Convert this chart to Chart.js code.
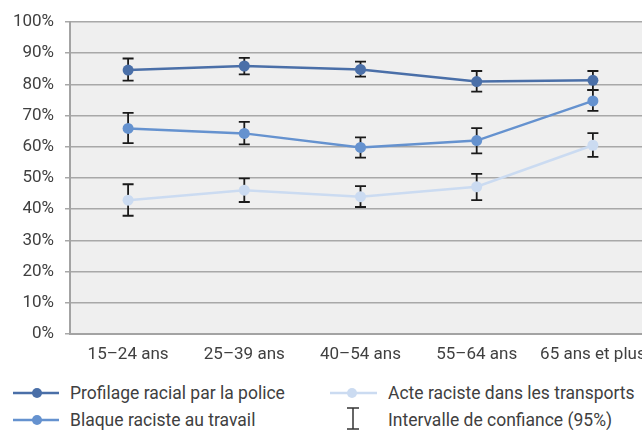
<!DOCTYPE html>
<html>
<head>
<meta charset="utf-8">
<script src="https://cdn.jsdelivr.net/npm/chart.js@4"></script>
<style>
  html, body { margin: 0; padding: 0; background: #fff; overflow: hidden; width: 642px; height: 430px; }
  #wrap { position: absolute; left: 0; top: 0; width: 662px; height: 372px; }
  .leg { position: absolute; font-family: Roboto, sans-serif; font-size: 17.5px; color: #404040; white-space: nowrap; line-height: 20px; }
  .ico { position: absolute; }
</style>
</head>
<body>
<div id="wrap"><canvas id="lineChart" width="662" height="372"></canvas></div>

<svg class="ico" style="left:12px;top:385px" width="50" height="16">
  <line x1="1" y1="8" x2="47" y2="8" stroke="#4a6fa8" stroke-width="2.5"/><circle cx="25" cy="8" r="5" fill="#4a6fa8"/>
</svg>
<div class="leg" style="left:70px;top:383px">Profilage racial par la police</div>

<svg class="ico" style="left:12px;top:412px" width="50" height="16">
  <line x1="1" y1="8" x2="47" y2="8" stroke="#6592cf" stroke-width="2.5"/><circle cx="25" cy="8" r="5" fill="#6592cf"/>
</svg>
<div class="leg" style="left:70px;top:410px">Blaque raciste au travail</div>

<svg class="ico" style="left:329px;top:385px" width="50" height="16">
  <line x1="1" y1="8" x2="48" y2="8" stroke="#cbdbf1" stroke-width="2.5"/><circle cx="23" cy="8" r="5" fill="#cbdbf1"/>
</svg>
<div class="leg" style="left:388px;top:383px">Acte raciste dans les transports</div>

<svg class="ico" style="left:345px;top:407px" width="16" height="23">
  <line x1="8" y1="1" x2="8" y2="22" stroke="#333" stroke-width="1.5"/>
  <line x1="2" y1="1" x2="14" y2="1" stroke="#333" stroke-width="1.5"/>
  <line x1="2" y1="22" x2="14" y2="22" stroke="#333" stroke-width="1.5"/>
</svg>
<div class="leg" style="left:388px;top:410px">Intervalle de confiance (95%)</div>

<script>
const categories = ['15\u201324 ans', '25\u201339 ans', '40\u201354 ans', '55\u201364 ans', '65 ans et plus'];

// valeurs en %
const policeValues = [84.6, 85.9, 84.8, 80.9, 81.3];
const policeLow = [81.2, 83.2, 82.5, 77.7, 78.2];
const policeHigh = [88.3, 88.5, 87.3, 84.3, 84.3];

const travailValues = [65.9, 64.3, 59.8, 62.0, 74.7];
const travailLow = [61.2, 60.8, 56.5, 57.9, 71.5];
const travailHigh = [70.9, 68.0, 63.0, 66.0, 78.2];

const transportsValues = [42.9, 46.1, 44.0, 47.2, 60.5];
const transportsLow = [37.9, 42.3, 40.7, 42.9, 56.8];
const transportsHigh = [48.0, 49.9, 47.4, 51.3, 64.4];

const yTicks = [0, 10, 20, 30, 40, 50, 60, 70, 80, 90, 100];

const plotBg = {
    id: 'plotBg',
    beforeDraw(chart) {
        const a = chart.chartArea;
        const c = chart.ctx;
        c.save();
        c.fillStyle = '#efefef';
        c.fillRect(a.left, a.top, a.right - a.left, a.bottom - a.top);
        c.restore();
    }
};

// intervalles de confiance, dessinés sous les points
const errorBars = {
    id: 'errorBars',
    beforeDatasetsDraw(chart) {
        const c = chart.ctx;
        const y = chart.scales.y;
        c.save();
        c.strokeStyle = '#1a1a1a';
        c.lineWidth = 1.8;
        chart.data.datasets.forEach((ds, i) => {
            const meta = chart.getDatasetMeta(i);
            meta.data.forEach((pt, j) => {
                const top = y.getPixelForValue(ds.high[j]);
                const bot = y.getPixelForValue(ds.low[j]);
                c.beginPath();
                c.moveTo(pt.x, top); c.lineTo(pt.x, bot);
                c.moveTo(pt.x - 5.5, top); c.lineTo(pt.x + 5.5, top);
                c.moveTo(pt.x - 5.5, bot); c.lineTo(pt.x + 5.5, bot);
                c.stroke();
            });
        });
        c.restore();
    }
};

function series(label, values, low, high, color) {
    return {
        label: label,
        data: values,
        low: low,
        high: high,
        borderColor: color,
        backgroundColor: color,
        pointBackgroundColor: color,
        pointBorderWidth: 0,
        pointRadius: 5.5,
        borderWidth: 2.5,
        tension: 0
    };
}

const ctx = document.getElementById('lineChart').getContext('2d');
new Chart(ctx, {
    type: 'line',
    data: {
        labels: categories,
        datasets: [
            series('Acte raciste dans les transports', transportsValues, transportsLow, transportsHigh, '#cbdbf1'),
            series('Blaque raciste au travail', travailValues, travailLow, travailHigh, '#6592cf'),
            series('Profilage racial par la police', policeValues, policeLow, policeHigh, '#4a6fa8')
        ]
    },
    options: {
        responsive: false,
        animation: false,
        layout: { padding: { top: 22, right: 11, left: 0, bottom: 0 } },
        plugins: {
            legend: { display: false },
            tooltip: { enabled: false }
        },
        scales: {
            x: {
                offset: true,
                grid: { display: false, drawTicks: false },
                border: { display: true, color: '#a3a3a3', width: 2 },
                ticks: {
                    padding: 11,
                    color: '#404040',
                    font: { family: 'Roboto', size: 17 },
                    maxRotation: 0
                },
                afterFit(scale) { scale.height = 38; }
            },
            y: {
                min: 0,
                max: 100,
                afterBuildTicks(scale) { scale.ticks = yTicks.map(v => ({ value: v })); },
                grid: { color: '#a8a8a8', lineWidth: 1.5, tickLength: 5 },
                border: { display: true, color: '#a3a3a3', width: 2 },
                ticks: {
                    padding: 11,
                    color: '#404040',
                    font: { family: 'Roboto', size: 17 },
                    callback: v => v + '%'
                },
                afterFit(scale) { scale.width = 70; }
            }
        }
    },
    plugins: [plotBg, errorBars]
});
</script>
</body>
</html>
